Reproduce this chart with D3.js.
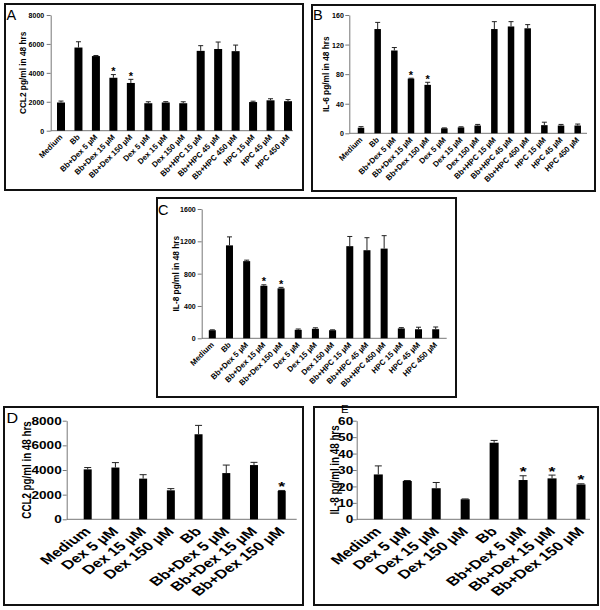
<!DOCTYPE html>
<html><head><meta charset="utf-8">
<script src="https://cdn.jsdelivr.net/npm/d3@7"></script>
<style>body{margin:0;background:#fff}svg{display:block}text{font-family:Arial,"Liberation Sans",sans-serif}</style>
</head><body>
<svg id="c" width="600" height="610"></svg>
<script>
// ---------- data ----------
const categoriesABC = ["Medium","Bb","Bb+Dex 5 µM","Bb+Dex 15 µM","Bb+Dex 150 µM","Dex 5 µM","Dex 15 µM","Dex 150 µM","Bb+HPC 15 µM","Bb+HPC 45 µM","Bb+HPC 450 µM","HPC 15 µM","HPC 45 µM","HPC 450 µM"];
const ccl2A    = [1950,5750,5160,3660,3300,1900,1950,1900,5520,5650,5500,1980,2100,2040];
const ccl2AErr = [100,400,40,220,250,100,60,100,360,480,420,60,110,110];
const il6B     = [7.5,141,112,74,65.5,6.8,8,10.5,141,144.5,142,11,10.5,10.5];
const il6BErr  = [1.5,9,4,0.5,3.5,0.5,0.8,1.5,10,6.5,5,4,1.5,2];
const il8C     = [100,1150,955,650,618,105,118,100,1140,1090,1110,122,112,112];
const il8CErr  = [5,105,12,12,12,10,12,5,120,155,160,10,25,28];
const sigABC   = [3,4];
const ticksA = [0,2000,4000,6000,8000];
const ticksB = [0,40,80,120,160];
const ticksC = [0,400,800,1200,1600];

const categoriesDE = ["Medium","Dex 5 µM","Dex 15 µM","Dex 150 µM","Bb","Bb+Dex 5 µM","Bb+Dex 15 µM","Bb+Dex 150 µM"];
const ccl2D    = [4050,4200,3300,2350,6900,3750,4400,2300];
const ccl2DErr = [150,400,320,140,720,650,220,40];
const il8E     = [27.3,23.3,18.9,12.2,46.6,23.9,24.9,21.2];
const il8EErr  = [5.2,0.3,3.5,0.2,1.4,2.6,2.0,0.4];
const sigD = [7];
const sigE = [5,6,7];
const ticksD = [0,2000,4000,6000,8000];
const ticksE = [0,10,20,30,40,50,60];

// ---------- layout ----------
const svg = d3.select("#c");
const panels = [
  {L:"A", frame:[5,4,303,190], ax:50.7, y0:130.7, y1:15, max:8000, ticks:ticksA, c0:61, c1:288, axEnd:293,
   cats:categoriesABC, v:ccl2A, e:ccl2AErr, sig:sigABC, yl:"CCL2 pg/ml in 48 hrs", ylx:23, bw:8,
   ft:7, fx:7.8, fy:8.3, sx:1, lx:6.5, ly:20, fl:14.5, tg:6.5, cap:5, fs:11, lab:[2,7]},
  {L:"B", frame:[312,5,595,191], ax:349.3, y0:133.3, y1:15, max:160, ticks:ticksB, c0:361, c1:577.7, axEnd:587,
   cats:categoriesABC, v:il6B, e:il6BErr, sig:sigABC, yl:"IL-6 pg/ml in 48 hrs", ylx:326, bw:6.5,
   ft:7, fx:7.8, fy:8.3, sx:1, lx:313, ly:19.5, fl:14.5, tg:5.5, cap:5, fs:11, lab:[2,7]},
  {L:"C", frame:[157,198,456,397], ax:201.7, y0:338.3, y1:209, max:1600, ticks:ticksC, c0:212.3, c1:435.7, axEnd:446.7,
   cats:categoriesABC, v:il8C, e:il8CErr, sig:sigABC, yl:"IL-8 pg/ml in 48 hrs", ylx:175.7, bw:7,
   ft:7, fx:7.8, fy:8.3, sx:1, lx:158, ly:214.5, fl:14.5, tg:6, cap:5, fs:11, lab:[2,7]},
  {L:"D", frame:[4,407,303,605], ax:66.7, y0:519.3, y1:420.7, max:8000, ticks:ticksD, c0:87.7, c1:281.7, axEnd:296.7,
   cats:categoriesDE, v:ccl2D, e:ccl2DErr, sig:sigD, yl:"CCL2 pg/ml in 48 hrs", ylx:26.5, bw:8,
   ft:10, fx:12.3, fy:9.8, sx:1.36, lx:6.5, ly:423, fl:14, tg:5, cap:7, fs:13, lab:[4,13]},
  {L:"E", frame:[314,407,598,605], ax:356.7, y0:519.3, y1:420.7, max:60, ticks:ticksE, c0:378.3, c1:581, axEnd:590,
   cats:categoriesDE, v:il8E, e:il8EErr, sig:sigE, yl:"IL-8 pg/ml in 48 hrs", ylx:334.5, bw:9,
   ft:10, fx:12.3, fy:9.8, sx:1.36, lx:341, ly:413, fl:10, tg:3.5, cap:7, fs:13, lab:[4,13]}
];

panels.forEach(p => {
  const g = svg.append("g");
  const [fx0,fy0,fx1,fy1] = p.frame;
  g.append("rect").attr("x",fx0).attr("y",fy0).attr("width",fx1-fx0).attr("height",fy1-fy0)
    .attr("fill","#fff").attr("stroke","#111").attr("stroke-width",2);

  const y = d3.scaleLinear().domain([0,p.max]).range([p.y0,p.y1]);
  const x = d3.scalePoint().domain(p.cats).range([p.c0,p.c1]);

  // y axis
  const yAxis = d3.axisLeft(y).tickValues(p.ticks).tickSize(4).tickSizeOuter(0).tickFormat(d3.format("d"));
  const ag = g.append("g").attr("transform",`translate(${p.ax},0)`).call(yAxis);
  ag.select(".domain").attr("stroke","#777").attr("stroke-width",1);
  ag.selectAll(".tick line").attr("stroke","#777");
  ag.selectAll(".tick text")
    .attr("x",null).attr("dy",null)
    .attr("transform",`translate(${-p.tg},${p.ft*0.36}) scale(${p.sx},1)`)
    .attr("font-size",p.ft).attr("font-weight","bold").attr("fill","#000")
    .attr("font-family","Arial, 'Liberation Sans', sans-serif");

  // x axis line
  g.append("line").attr("x1",p.ax).attr("x2",p.axEnd).attr("y1",p.y0).attr("y2",p.y0)
    .attr("stroke","#777").attr("stroke-width",1);

  // bars
  const idx = d3.range(p.cats.length);
  g.selectAll(".bar").data(idx).join("rect")
    .attr("x",i=>x(p.cats[i])-p.bw/2).attr("width",p.bw)
    .attr("y",i=>y(p.v[i])).attr("height",i=>p.y0-y(p.v[i])).attr("fill","#000");

  // error bars (upper only)
  g.selectAll(".err").data(idx).join("path")
    .attr("d",i=>{const cx=x(p.cats[i]), t=y(p.v[i]+p.e[i]), b=y(p.v[i]);
      return `M${cx},${b}V${t}M${cx-p.cap/2},${t}H${cx+p.cap/2}`;})
    .attr("stroke","#222").attr("stroke-width",1).attr("fill","none");

  // significance stars
  g.selectAll(".star").data(p.sig).join("text")
    .attr("transform",i=>`translate(${x(p.cats[i])},${y(p.v[i]+p.e[i])+p.fs*0.05}) scale(${p.sx},1)`)
    .attr("text-anchor","middle").attr("font-size",p.fs).attr("font-weight","bold").text("*");

  // x labels
  g.selectAll(".xl").data(idx).join("text")
    .attr("transform",i=>`translate(${x(p.cats[i])+p.lab[0]},${p.y0+p.lab[1]}) scale(${p.sx},1) rotate(-45)`)
    .attr("text-anchor","end").attr("font-size",p.fx).attr("font-weight","bold").text(i=>p.cats[i]);

  // y label
  g.append("text")
    .attr("transform",`translate(${p.ylx},${(p.y0+p.y1)/2}) scale(${p.sx},1) rotate(-90)`)
    .attr("text-anchor","middle").attr("dy","0.35em")
    .attr("font-size",p.fy).attr("font-weight","bold").text(p.yl);

  // panel letter
  g.append("text")
    .attr("transform",`translate(${p.lx},${p.ly}) scale(${p.sx>1?1.15:1},1)`)
    .attr("font-size",p.fl).text(p.L);
});
</script>
</body></html>
